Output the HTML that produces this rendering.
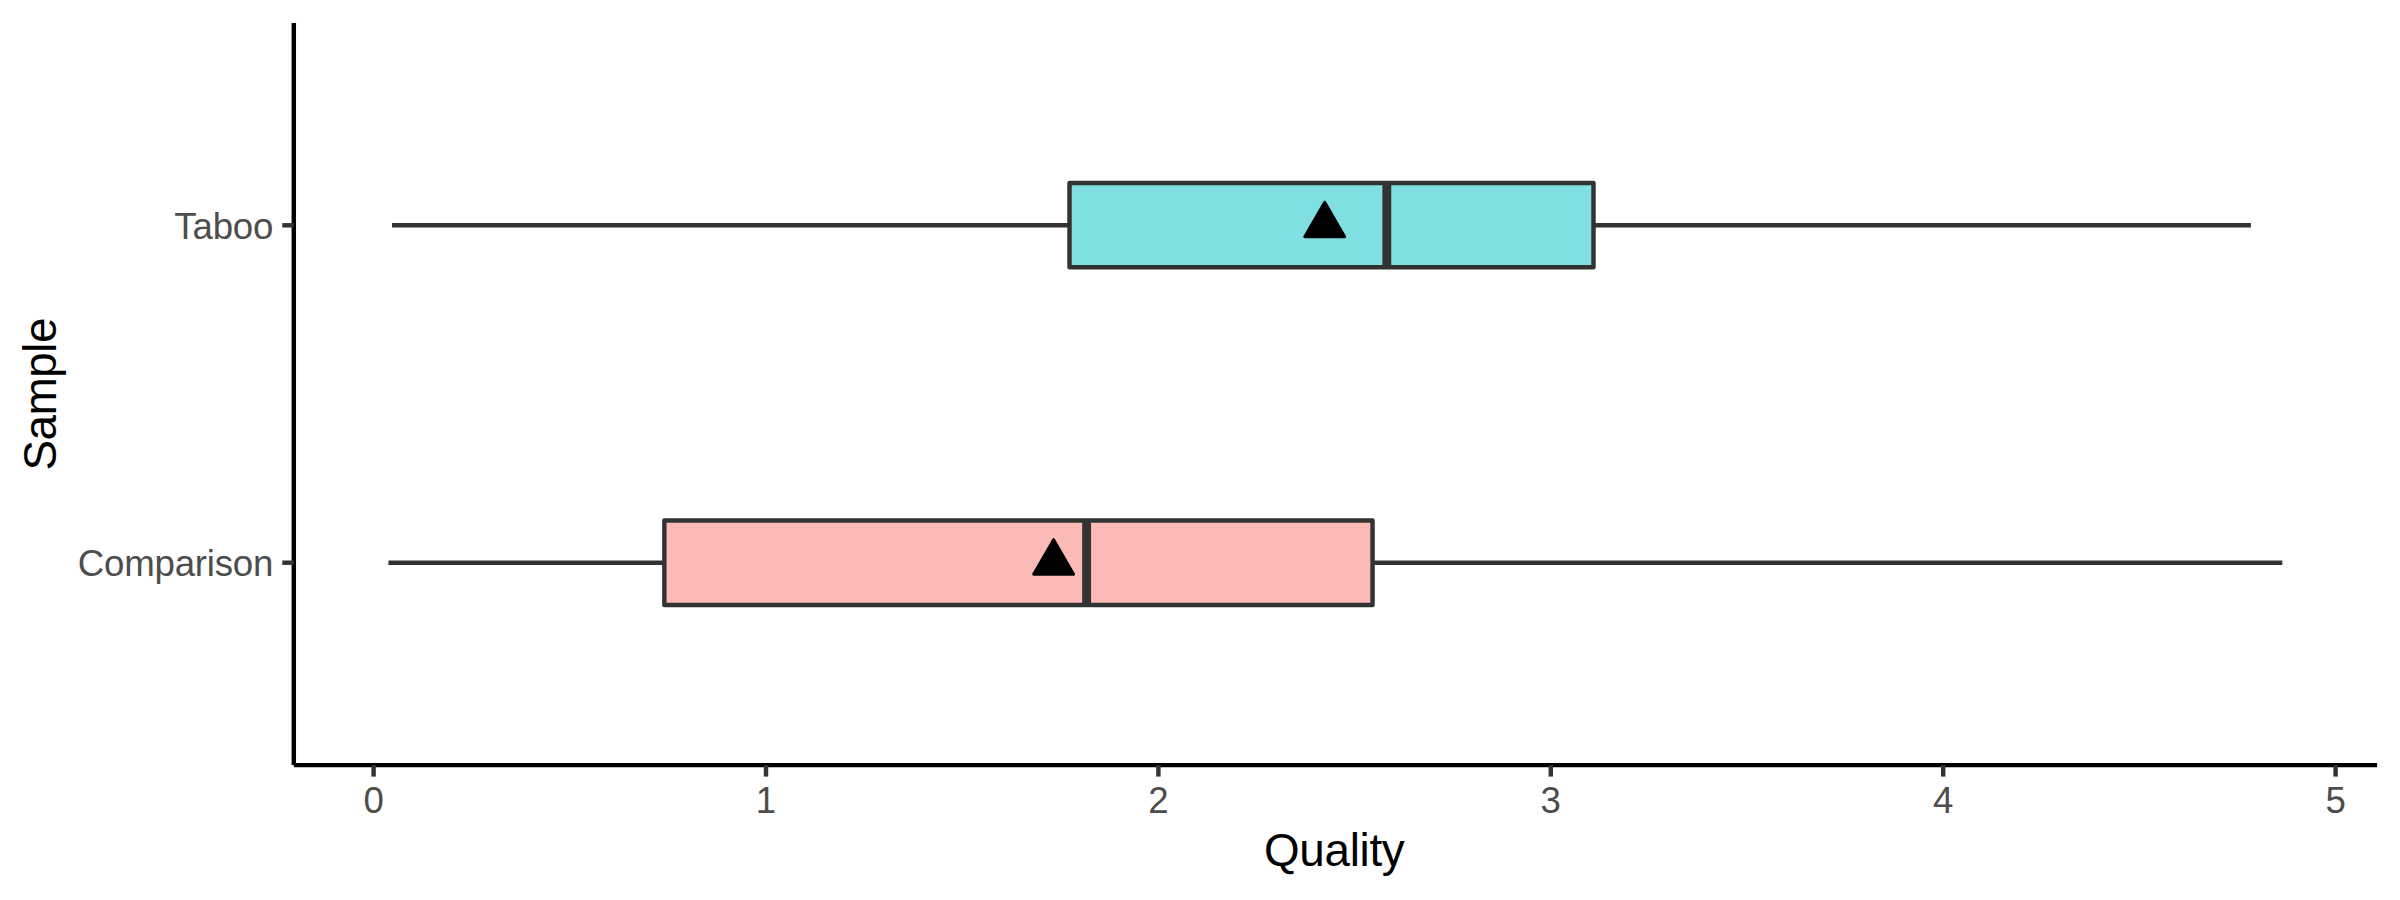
<!DOCTYPE html>
<html lang="en">
<head>
<meta charset="utf-8">
<title>Quality by Sample</title>
<style>
  html, body { margin: 0; padding: 0; background: #ffffff; }
  body { width: 2400px; height: 900px; overflow: hidden; }
  svg { display: block; }
  text { font-family: "Liberation Sans", Arial, Helvetica, sans-serif; }
  .tick { font-size: 36.67px; fill: #4d4d4d; }
  .title { font-size: 45.83px; fill: #000000; }
</style>
</head>
<body>
<svg width="2400" height="900" viewBox="0 0 2400 900">
  <rect x="0" y="0" width="2400" height="900" fill="#ffffff"/>

  <!-- Taboo: whisker, box, median -->
  <g stroke="#333333" stroke-width="4.45" stroke-linejoin="round" stroke-linecap="butt">
    <line x1="392" y1="225.2" x2="1069.5" y2="225.2"/>
    <line x1="1593.5" y1="225.2" x2="2250.9" y2="225.2"/>
    <rect x="1069.5" y="183" width="524" height="84.3" fill="#80dfe2"/>
    <line x1="1386.8" y1="183" x2="1386.8" y2="267.3" stroke-width="8.9"/>
  </g>

  <!-- Comparison: whisker, box, median -->
  <g stroke="#333333" stroke-width="4.45" stroke-linejoin="round" stroke-linecap="butt">
    <line x1="388.4" y1="562.7" x2="664.35" y2="562.7"/>
    <line x1="1372.55" y1="562.7" x2="2282.3" y2="562.7"/>
    <rect x="664.35" y="520.5" width="708.2" height="84.4" fill="#fbbab6"/>
    <line x1="1086.6" y1="520.5" x2="1086.6" y2="604.9" stroke-width="8.9"/>
  </g>

  <!-- mean markers -->
  <g fill="#000000" stroke="#000000" stroke-width="2.95" stroke-linejoin="round">
    <polygon points="1324.70,202.27 1344.65,236.82 1304.75,236.82"/>
    <polygon points="1053.60,539.67 1073.55,574.22 1033.65,574.22"/>
  </g>

  <!-- axis lines -->
  <g stroke="#000000" stroke-width="4.45" stroke-linecap="butt" fill="none">
    <line x1="293.8" y1="22.9" x2="293.8" y2="765.1"/>
    <line x1="293.8" y1="765.1" x2="2377.1" y2="765.1"/>
  </g>

  <!-- ticks -->
  <g stroke="#333333" stroke-width="4.45" stroke-linecap="butt">
    <line x1="282.3" y1="225.3" x2="293.8" y2="225.3"/>
    <line x1="282.3" y1="562.7" x2="293.8" y2="562.7"/>
    <line x1="373.6" y1="765.1" x2="373.6" y2="776.6"/>
    <line x1="766.0" y1="765.1" x2="766.0" y2="776.6"/>
    <line x1="1158.4" y1="765.1" x2="1158.4" y2="776.6"/>
    <line x1="1550.8" y1="765.1" x2="1550.8" y2="776.6"/>
    <line x1="1943.2" y1="765.1" x2="1943.2" y2="776.6"/>
    <line x1="2335.6" y1="765.1" x2="2335.6" y2="776.6"/>
  </g>

  <!-- x tick labels -->
  <g class="tick" text-anchor="middle">
    <text x="373.6" y="812.9">0</text>
    <text x="766.0" y="812.9">1</text>
    <text x="1158.4" y="812.9">2</text>
    <text x="1550.8" y="812.9">3</text>
    <text x="1943.2" y="812.9">4</text>
    <text x="2335.6" y="812.9">5</text>
  </g>

  <!-- y tick labels -->
  <g class="tick" text-anchor="end">
    <text x="273.2" y="238.8" letter-spacing="-0.2">Taboo</text>
    <text x="273.2" y="576.0" letter-spacing="-0.22">Comparison</text>
  </g>

  <!-- axis titles -->
  <text class="title" text-anchor="middle" x="1334.2" y="866" letter-spacing="-0.3">Quality</text>
  <text class="title" text-anchor="middle" transform="translate(55.9,394.2) rotate(-90)" letter-spacing="-0.45">Sample</text>
</svg>
</body>
</html>
